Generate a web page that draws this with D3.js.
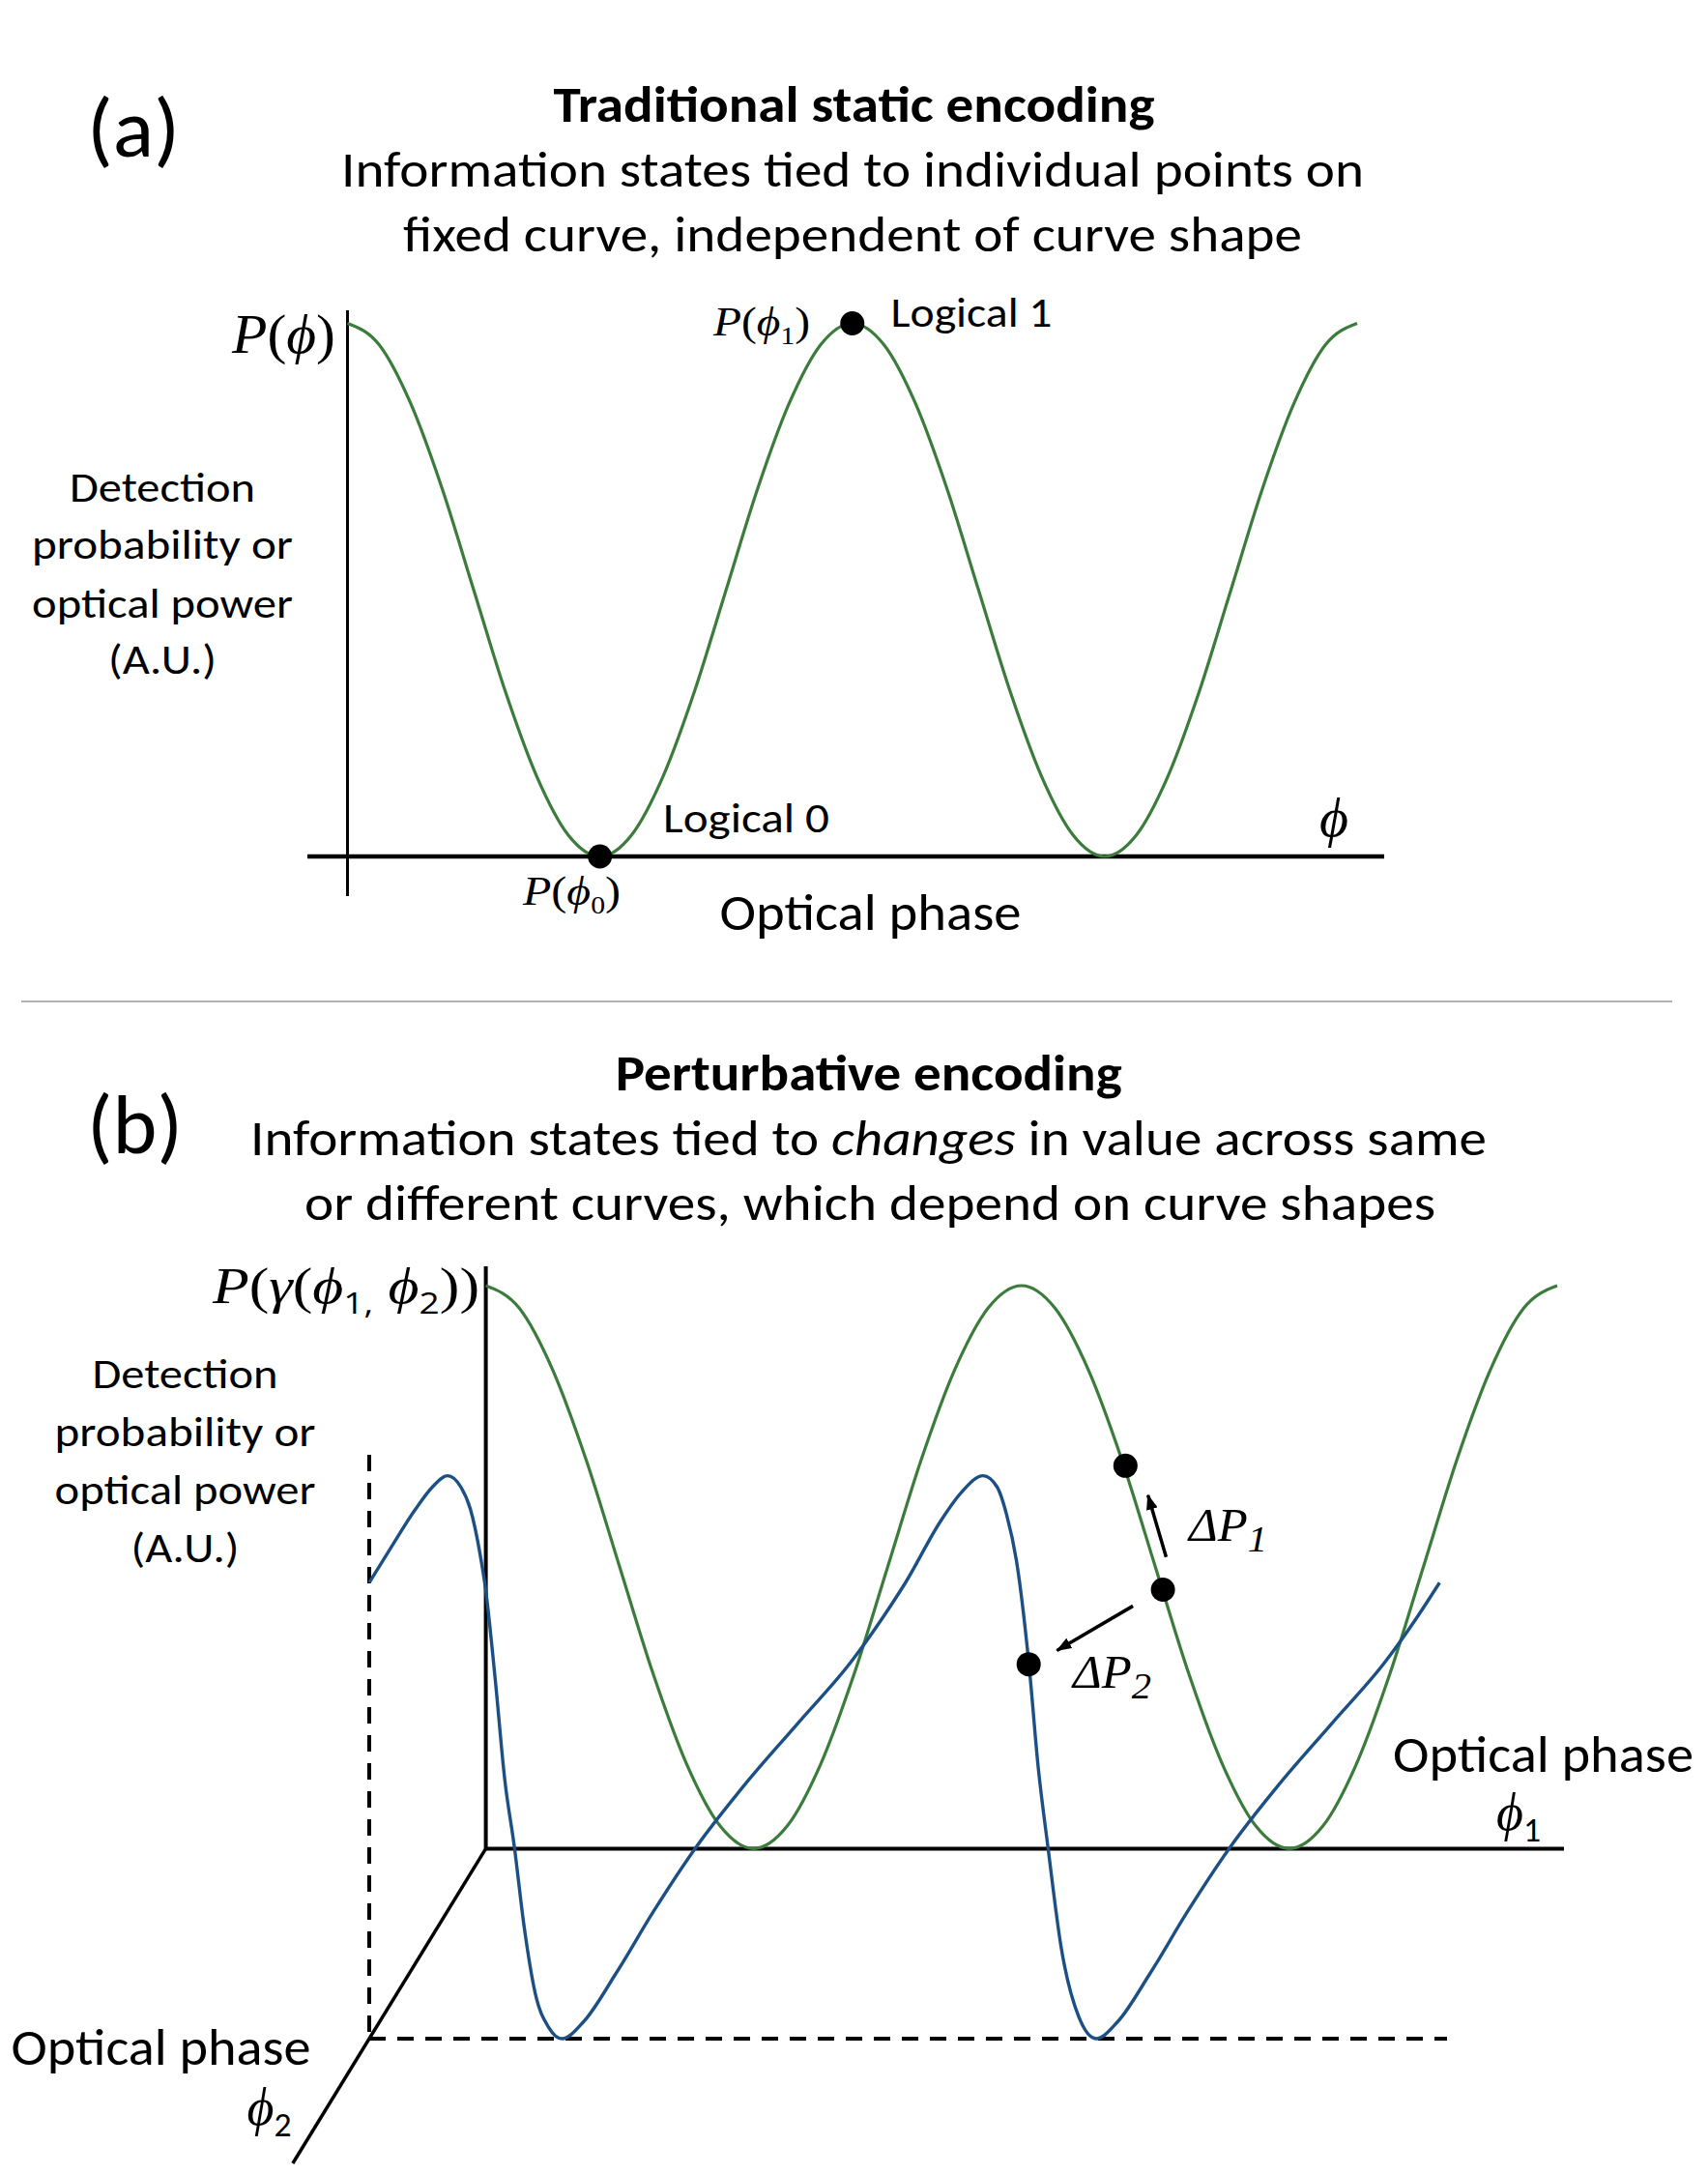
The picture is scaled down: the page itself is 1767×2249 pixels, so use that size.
<!DOCTYPE html>
<html>
<head>
<meta charset="utf-8">
<script src="https://cdn.jsdelivr.net/npm/d3@7"></script>
<style>
  body { margin: 0; background: #fff; }
  text { font-variant-numeric: lining-nums; }
</style>
</head>
<body>
<div id="my_dataviz"></div>
<script>
// phase axis in cycles (1 cycle = 2π), detection probability normalised 0..1
var phaseCycles = [0, 0.0625, 0.125, 0.1875, 0.25, 0.3125, 0.375, 0.4375, 0.5,
    0.5625, 0.625, 0.6875, 0.75, 0.8125, 0.875, 0.9375, 1,
    1.0625, 1.125, 1.1875, 1.25, 1.3125, 1.375, 1.4375, 1.5,
    1.5625, 1.625, 1.6875, 1.75, 1.8125, 1.875, 1.9375, 2];
var greenP = [1, 0.96, 0.85, 0.69, 0.5, 0.31, 0.15, 0.04, 0,
    0.04, 0.15, 0.31, 0.5, 0.69, 0.85, 0.96, 1,
    0.96, 0.85, 0.69, 0.5, 0.31, 0.15, 0.04, 0,
    0.04, 0.15, 0.31, 0.5, 0.69, 0.85, 0.96, 1];

// second (skewed) curve
var blueCycles = [0, 0.039, 0.086, 0.118, 0.146, 0.171, 0.189, 0.207, 0.217, 0.235,
    0.253, 0.271, 0.289, 0.31, 0.335, 0.36, 0.4, 0.46, 0.53, 0.61,
    0.7, 0.8, 0.9, 0.96, 1.001, 1.067, 1.105, 1.146, 1.172, 1.19,
    1.208, 1.231, 1.249, 1.267, 1.292, 1.324, 1.357, 1.397, 1.457, 1.527,
    1.607, 1.697, 1.797, 1.897, 1.957, 1.998];
var blueP = [0.81, 0.87, 0.94, 0.98, 1, 0.98, 0.94, 0.86, 0.8, 0.64,
    0.46, 0.34, 0.2, 0.08, 0.02, 0, 0.03, 0.115, 0.225, 0.34,
    0.45, 0.56, 0.67, 0.75, 0.81, 0.92, 0.97, 1, 0.98, 0.93,
    0.85, 0.67, 0.48, 0.34, 0.16, 0.04, 0, 0.03, 0.115, 0.225,
    0.34, 0.45, 0.56, 0.67, 0.75, 0.81];

// marked states
var dotsA = [[0.5, 0], [1, 1]];             // P(φ0), P(φ1)
var dotsGreenB = [[1.194, 0.68], [1.264, 0.46]];
var dotsBlueB = [[1.231, 0.665]];
// arrows (from, to) in panel (b) coordinates
var arrowsB = [[[1.27, 0.518], [1.236, 0.628]], [[1.208, 0.431], [1.066, 0.352]]];

var yLabel = ["Detection", "probability or", "optical power", "(A.U.)"];

var GREEN = "#3b7b3b", BLUE = "#1c4f84";
var SANS = "'Open Sans', 'Noto Sans', sans-serif";
var CAL = "Carlito, Calibri, Lato, sans-serif";
var SERIF = "'Liberation Serif', 'DejaVu Serif', serif";

var svg = d3.select("#my_dataviz")
    .append("svg")
    .attr("width", 1767)
    .attr("height", 2249);

svg.append("defs").append("marker")
    .attr("id", "head")
    .attr("markerUnits", "userSpaceOnUse")
    .attr("viewBox", "0 0 16 12")
    .attr("refX", 15).attr("refY", 6)
    .attr("markerWidth", 16).attr("markerHeight", 12)
    .attr("orient", "auto")
    .append("path")
    .attr("d", "M0,0 L16,6 L0,12 Z")
    .attr("fill", "#000");

// text with italic / subscript pieces
function rich(x, y, parts, o) {
    var t = svg.append("text")
        .attr("x", x).attr("y", y)
        .attr("font-family", o.font)
        .attr("font-size", o.size)
        .attr("font-weight", o.bold ? "bold" : null)
        .attr("font-style", o.italic ? "italic" : null)
        .attr("text-anchor", o.anchor || "start")
        .attr("fill", "#000");
    var shift = 0;
    parts.forEach(function (p) {
        var f = p[1] || {};
        var s = t.append("tspan").text(p[0]);
        var dy = f.sub ? o.size * 0.22 : 0;
        if (dy - shift !== 0) s.attr("dy", dy - shift);
        shift = dy;
        if (f.it) s.attr("font-style", "italic");
        if (f.sub) s.attr("font-size", o.size * (f.scale || 0.62));
        if (f.font) s.attr("font-family", f.font);
    });
    if (o.width) t.attr("textLength", o.width).attr("lengthAdjust", "spacingAndGlyphs");
    return t;
}
function plain(x, y, str, o) {
    return rich(x, y, [[str]], o);
}
function seg(x1, y1, x2, y2, w, dash) {
    return svg.append("line")
        .attr("x1", x1).attr("y1", y1).attr("x2", x2).attr("y2", y2)
        .attr("stroke", "#000").attr("stroke-width", w)
        .attr("stroke-dasharray", dash || null);
}

// ---------------- panel (a) ----------------
var xA = d3.scaleLinear().domain([0, 2]).range([359.5, 1404]);
var yA = d3.scaleLinear().domain([0, 1]).range([886, 334.5]);

plain(90, 162, "(a)", { font: CAL, size: 86, width: 96 });
plain(883.5, 126, "Traditional static encoding", { font: CAL, size: 52, bold: true, anchor: "middle", width: 622 });
plain(882, 193, "Information states tied to individual points on", { font: CAL, size: 52, anchor: "middle", width: 1058 });
plain(882, 260, "fixed curve, independent of curve shape", { font: CAL, size: 52, anchor: "middle", width: 930 });

seg(xA(0), 321, xA(0), 927, 3);
seg(318, yA(0), 1432, yA(0), 4.5);

var lineA = d3.line()
    .x(function (d) { return xA(d[0]); })
    .y(function (d) { return yA(d[1]); })
    .curve(d3.curveMonotoneX);
svg.append("path")
    .datum(d3.zip(phaseCycles, greenP))
    .attr("d", lineA)
    .attr("fill", "none")
    .attr("stroke", GREEN)
    .attr("stroke-width", 3.2);

svg.selectAll(".dotA")
    .data(dotsA)
    .enter()
    .append("circle")
    .attr("cx", function (d) { return xA(d[0]); })
    .attr("cy", function (d) { return yA(d[1]); })
    .attr("r", 12.5)
    .attr("fill", "#000");

rich(240, 365, [["P", { it: true }], ["("], ["ϕ", { it: true }], [")"]], { font: SERIF, size: 58, width: 107 });
rich(738, 347, [["P", { it: true }], ["("], ["ϕ", { it: true }], ["1", { sub: true }], [")"]], { font: SERIF, size: 42, width: 100 });
rich(541, 936, [["P", { it: true }], ["("], ["ϕ", { it: true }], ["0", { sub: true }], [")"]], { font: SERIF, size: 42, width: 101 });
plain(921.5, 338, "Logical 1", { font: CAL, size: 43, width: 167 });
plain(686, 861, "Logical 0", { font: CAL, size: 43, width: 172 });
plain(744.5, 962, "Optical phase", { font: CAL, size: 54, width: 312 });
plain(1365, 865, "ϕ", { font: SERIF, size: 58, italic: true });

var yLabelA = [519, 578, 639, 697];
var yLabelW = [192, 270, 270, 112];
yLabel.forEach(function (s, i) {
    plain(168, yLabelA[i], s, { font: CAL, size: 43, anchor: "middle", width: yLabelW[i] });
});

svg.append("line")
    .attr("x1", 22).attr("x2", 1730)
    .attr("y1", 1036).attr("y2", 1036)
    .attr("stroke", "#9a9a9a").attr("stroke-width", 1.5);

// ---------------- panel (b) ----------------
var xB = d3.scaleLinear().domain([0, 2]).range([502.6, 1611]);
var yB = d3.scaleLinear().domain([0, 1]).range([1912.4, 1330]);
var depth = { dx: -120.6, dy: 196.6 };   // shift along the φ2 axis for the second curve

plain(90, 1193, "(b)", { font: CAL, size: 86, width: 99 });
plain(898.7, 1128, "Perturbative encoding", { font: CAL, size: 52, bold: true, anchor: "middle", width: 524 });
rich(898.5, 1195, [["Information states tied to "], ["changes", { it: true }], [" in value across same"]],
    { font: CAL, size: 52, anchor: "middle", width: 1279 });
plain(900, 1262, "or different curves, which depend on curve shapes", { font: CAL, size: 52, anchor: "middle", width: 1170 });

// axes: φ1 (horizontal), P (vertical), φ2 (depth)
var ox = xB(0), oy = yB(0);
seg(ox, 1310, ox, oy, 4);
seg(ox, oy, 1618, oy, 4);
seg(ox, oy, ox + depth.dx * 1.656, oy + depth.dy * 1.656, 3.5);
seg(ox + depth.dx, 1505, ox + depth.dx, oy + depth.dy, 4, "17,12");
seg(ox + depth.dx, oy + depth.dy, 1497, oy + depth.dy, 4, "17,12");

var lineB = d3.line()
    .x(function (d) { return xB(d[0]); })
    .y(function (d) { return yB(d[1]); })
    .curve(d3.curveMonotoneX);
var lineB2 = d3.line()
    .x(function (d) { return xB(d[0]) + depth.dx; })
    .y(function (d) { return yB(d[1]) + depth.dy; })
    .curve(d3.curveMonotoneX);

svg.append("path")
    .datum(d3.zip(phaseCycles, greenP))
    .attr("d", lineB)
    .attr("fill", "none")
    .attr("stroke", GREEN)
    .attr("stroke-width", 3.2);
svg.append("path")
    .datum(d3.zip(blueCycles, blueP))
    .attr("d", lineB2)
    .attr("fill", "none")
    .attr("stroke", BLUE)
    .attr("stroke-width", 3.4);

svg.selectAll(".dotB")
    .data(dotsGreenB)
    .enter()
    .append("circle")
    .attr("cx", function (d) { return xB(d[0]); })
    .attr("cy", function (d) { return yB(d[1]); })
    .attr("r", 12.5)
    .attr("fill", "#000");
svg.selectAll(".dotB2")
    .data(dotsBlueB)
    .enter()
    .append("circle")
    .attr("cx", function (d) { return xB(d[0]) + depth.dx; })
    .attr("cy", function (d) { return yB(d[1]) + depth.dy; })
    .attr("r", 12.5)
    .attr("fill", "#000");

svg.selectAll(".arrow")
    .data(arrowsB)
    .enter()
    .append("line")
    .attr("x1", function (d) { return xB(d[0][0]); })
    .attr("y1", function (d) { return yB(d[0][1]); })
    .attr("x2", function (d) { return xB(d[1][0]); })
    .attr("y2", function (d) { return yB(d[1][1]); })
    .attr("stroke", "#000")
    .attr("stroke-width", 3.5)
    .attr("marker-end", "url(#head)");

rich(1230, 1594, [["Δ"], ["P"], ["1", { sub: true, scale: 0.8 }]], { font: SERIF, size: 48, italic: true, width: 81 });
rich(1110, 1746, [["Δ"], ["P"], ["2", { sub: true, scale: 0.8 }]], { font: SERIF, size: 48, italic: true, width: 81 });

rich(220, 1348, [["P", { it: true }], ["("], ["γ", { it: true }], ["("], ["ϕ", { it: true }],
    ["1,", { sub: true, font: SANS, scale: 0.6 }], [" "], ["ϕ", { it: true }],
    ["2", { sub: true, font: SANS, scale: 0.6 }], ["))"]], { font: SERIF, size: 52, width: 276 });

var yLabelB = [1436, 1495.5, 1555.6, 1615.6];
yLabel.forEach(function (s, i) {
    plain(191.5, yLabelB[i], s, { font: CAL, size: 43, anchor: "middle", width: yLabelW[i] });
});

plain(1441, 1833, "Optical phase", { font: CAL, size: 53, width: 311 });
rich(1548, 1893, [["ϕ", { it: true }], ["1", { sub: true, font: CAL, scale: 0.66 }]], { font: SERIF, size: 54 });
plain(11.5, 2136, "Optical phase", { font: CAL, size: 53, width: 310 });
rich(255.5, 2198, [["ϕ", { it: true }], ["2", { sub: true, font: CAL, scale: 0.66 }]], { font: SERIF, size: 54 });
</script>
</body>
</html>
